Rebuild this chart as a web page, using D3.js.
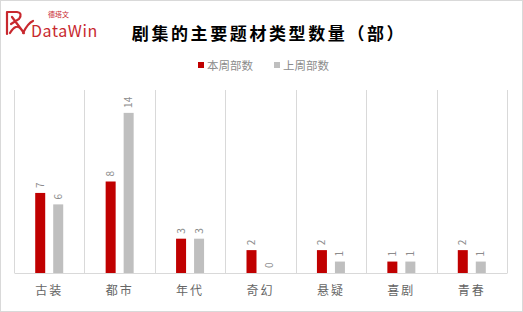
<!DOCTYPE html>
<html>
<head>
<meta charset="utf-8">
<script src="https://cdn.jsdelivr.net/npm/d3@7"></script>
<style>
  body { margin: 0; background: #fff; }
  text { font-family: "Noto Sans CJK SC", "Noto Sans", sans-serif; }
</style>
</head>
<body>
<div id="chart-area"></div>
<script>
// data
var categories = ["古装", "都市", "年代", "奇幻", "悬疑", "喜剧", "青春"];
var seriesNames = ["本周部数", "上周部数"];
var thisWeek = [7, 8, 3, 2, 2, 1, 2];
var lastWeek = [6, 14, 3, 0, 1, 1, 1];
var colors = ["#c00000", "#bfbfbf"];

var W = 523, H = 312;
var margin = { left: 14, right: 16, top: 90, bottom: 39 };
var width = W - margin.left - margin.right,
    height = H - margin.top - margin.bottom;

var svg = d3.select("#chart-area")
    .append("svg")
    .attr("width", W)
    .attr("height", H);

// outer border
svg.append("rect")
    .attr("x", 0.5).attr("y", 0.5)
    .attr("width", W - 1).attr("height", H - 1)
    .attr("fill", "#fff")
    .attr("stroke", "#d9d9d9");

// logo
var logo = svg.append("g").attr("transform", "translate(4,9)");
logo.append("path")
    .attr("d", "M3,3 L3,25 M3,3 L13,3 Q19,4 15,10 L7,15 M8,8 L20,24 M6,24 Q12,14 17,20 M19,24 Q24,14 29,12")
    .attr("fill", "none")
    .attr("stroke", "#c8282e")
    .attr("stroke-width", 2.2)
    .attr("stroke-linecap", "round");
svg.append("text")
    .attr("x", 48).attr("y", 17)
    .attr("font-size", "7px")
    .attr("fill", "#c8282e")
    .text("德塔文");
svg.append("text")
    .attr("x", 31).attr("y", 37)
    .attr("font-size", "16px")
    .attr("letter-spacing", "0.6px")
    .attr("font-family", "Roboto, sans-serif")
    .attr("fill", "#c8282e")
    .text("DataWin");

// title
svg.append("text")
    .attr("x", 269).attr("y", 40)
    .attr("text-anchor", "middle")
    .attr("font-size", "17px")
    .attr("font-weight", "bold")
    .attr("letter-spacing", "2.6px")
    .attr("fill", "#000")
    .text("剧集的主要题材类型数量（部）");

// legend
var legendX = [198, 274];
seriesNames.forEach(function(name, i) {
    svg.append("rect")
        .attr("x", legendX[i]).attr("y", 62)
        .attr("width", 6).attr("height", 6)
        .attr("fill", colors[i]);
    svg.append("text")
        .attr("x", legendX[i] + 9).attr("y", 69.5)
        .attr("font-size", "11.5px")
        .attr("fill", "#8c8c8c")
        .text(name);
});

var g = svg.append("g")
    .attr("transform", "translate(" + margin.left + "," + margin.top + ")");

// scales
var x = d3.scaleBand().domain(categories).range([0, width]).padding(0);
var y = d3.scaleLinear().domain([0, 16]).range([height, 0]);
var barW = 10, offset = 9;

// vertical gridlines between categories
var bounds = categories.map(function(c) { return x(c); }).concat([width]);
g.selectAll(".vgrid")
    .data(bounds)
    .enter().append("line")
    .attr("class", "vgrid")
    .attr("x1", function(d) { return Math.round(d) + 0.5; })
    .attr("x2", function(d) { return Math.round(d) + 0.5; })
    .attr("y1", 0)
    .attr("y2", height)
    .attr("stroke", "#d9d9d9");

// x axis
var xAxis = g.append("g")
    .attr("transform", "translate(0," + height + ")")
    .call(d3.axisBottom(x).tickSize(0).tickPadding(13));
xAxis.select(".domain").attr("stroke", "#d9d9d9").attr("stroke-width", 1.2);
xAxis.selectAll("text")
    .attr("font-size", "12px")
    .attr("letter-spacing", "2px")
    .attr("fill", "#666666")
    .attr("font-family", "Noto Sans CJK SC, sans-serif");

// bars
var series = [thisWeek, lastWeek];
series.forEach(function(vals, si) {
    var dx = si === 0 ? -offset : offset;
    g.selectAll(".bar" + si)
        .data(vals)
        .enter().append("rect")
        .attr("class", "bar" + si)
        .attr("x", function(d, i) { return x(categories[i]) + x.bandwidth() / 2 + dx - barW / 2; })
        .attr("y", function(d) { return y(d); })
        .attr("width", barW)
        .attr("height", function(d) { return height - y(d); })
        .attr("fill", colors[si]);

    // rotated value labels
    g.selectAll(".lab" + si)
        .data(vals)
        .enter().append("text")
        .attr("class", "lab" + si)
        .attr("transform", function(d, i) {
            var cx = x(categories[i]) + x.bandwidth() / 2 + dx;
            return "translate(" + (cx + 3.5) + "," + (y(d) - 5) + ") rotate(-90)";
        })
        .attr("font-size", "10px")
        .attr("fill", "#8c8c8c")
        .attr("font-family", "DejaVu Sans, sans-serif")
        .text(function(d) { return d; });
});
</script>
</body>
</html>
